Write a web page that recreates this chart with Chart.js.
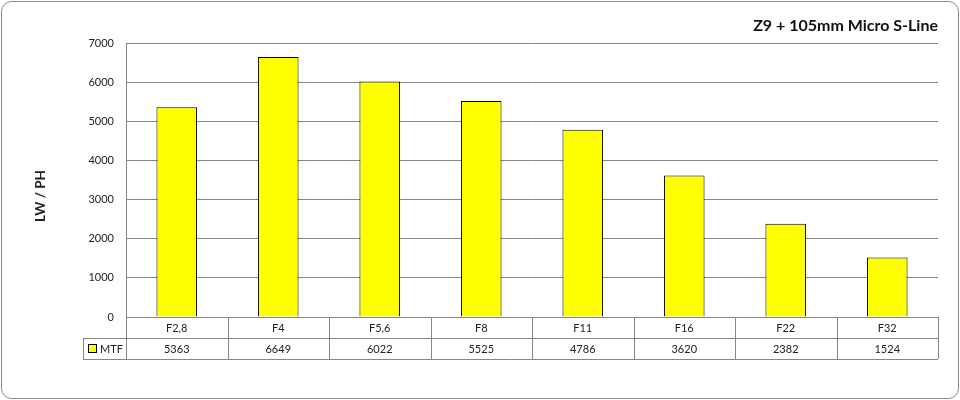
<!DOCTYPE html>
<html>
<head>
<meta charset="utf-8">
<script src="https://cdn.jsdelivr.net/npm/chart.js@4/dist/chart.umd.min.js"></script>
<style>
  html, body { margin: 0; padding: 0; background: #fff; }
  #wrap { width: 960px; height: 400px; position: relative; }
</style>
</head>
<body>
<div id="wrap"><canvas id="mtfChart" width="960" height="400"></canvas></div>
<script>
// Chart data
const apertures = ['F2,8', 'F4', 'F5,6', 'F8', 'F11', 'F16', 'F22', 'F32'];
const mtfValues = [5363, 6649, 6022, 5525, 4786, 3620, 2382, 1524];
const seriesName = 'MTF';
const chartTitle = 'Z9 + 105mm Micro S-Line';
const yAxisTitle = 'LW / PH';

const FONT = 'Lato, "Open Sans", sans-serif';
const LINE = '#868686';

// Outer rounded frame, axis title and Excel-like data table under the bars
const frameAndTable = {
    id: 'frameAndTable',
    beforeDraw(chart) {
        const ctx = chart.ctx;
        ctx.save();
        ctx.fillStyle = '#fff';
        ctx.fillRect(0, 0, chart.width, chart.height);
        ctx.restore();
    },
    afterDraw(chart) {
        const ctx = chart.ctx;
        const x = chart.scales.x;
        const area = chart.chartArea;
        const row1 = Math.round(area.bottom);
        const row2 = row1 + 21;
        const row3 = row2 + 21;
        const legendLeft = 83;
        const half = (x.getPixelForValue(1) - x.getPixelForValue(0)) / 2;

        ctx.save();
        ctx.strokeStyle = LINE;
        ctx.lineWidth = 1;

        // table grid
        ctx.beginPath();
        ctx.moveTo(area.left, row1 + 0.5); ctx.lineTo(area.right, row1 + 0.5);
        ctx.moveTo(legendLeft, row2 + 0.5); ctx.lineTo(area.right, row2 + 0.5);
        ctx.moveTo(legendLeft, row3 + 0.5); ctx.lineTo(area.right, row3 + 0.5);
        ctx.moveTo(legendLeft + 0.5, row2); ctx.lineTo(legendLeft + 0.5, row3);
        ctx.moveTo(Math.round(area.left) + 0.5, row1); ctx.lineTo(Math.round(area.left) + 0.5, row3);
        apertures.forEach((c, i) => {
            const px = Math.round(x.getPixelForValue(i) + half) + 0.5;
            ctx.moveTo(px, row1); ctx.lineTo(px, row3);
        });
        ctx.stroke();

        // legend key
        ctx.fillStyle = '#ffff00';
        ctx.fillRect(88.5, 344.5, 8, 8);
        ctx.strokeStyle = '#000';
        ctx.strokeRect(88.5, 344.5, 8, 8);

        ctx.fillStyle = '#222';
        ctx.font = '11px ' + FONT;
        ctx.textBaseline = 'middle';
        ctx.textAlign = 'left';
        ctx.fillText(seriesName, 100, (row2 + row3) / 2 + 1);

        ctx.textAlign = 'center';
        apertures.forEach((c, i) => {
            const px = x.getPixelForValue(i);
            ctx.fillText(c, px, (row1 + row2) / 2 + 1);
            ctx.fillText(String(mtfValues[i]), px, (row2 + row3) / 2 + 1);
        });

        // y axis title (sits a bit below the plot middle, as in the original)
        ctx.save();
        ctx.translate(41, 196);
        ctx.rotate(-Math.PI / 2);
        ctx.font = 'bold 13.5px ' + FONT;
        ctx.fillStyle = '#222';
        ctx.fillText(yAxisTitle, 0, 0);
        ctx.restore();

        // rounded frame
        ctx.strokeStyle = '#8a8a8a';
        const r = 10, l = 1.5, t = 1.5, w = chart.width - 3, h = chart.height - 3;
        ctx.beginPath();
        ctx.moveTo(l + r, t);
        ctx.lineTo(l + w - r, t);
        ctx.arcTo(l + w, t, l + w, t + r, r);
        ctx.lineTo(l + w, t + h - r);
        ctx.arcTo(l + w, t + h, l + w - r, t + h, r);
        ctx.lineTo(l + r, t + h);
        ctx.arcTo(l, t + h, l, t + h - r, r);
        ctx.lineTo(l, t + r);
        ctx.arcTo(l, t, l + r, t, r);
        ctx.stroke();
        ctx.restore();
    }
};

new Chart(document.getElementById('mtfChart'), {
    type: 'bar',
    data: {
        labels: apertures,
        datasets: [{
            label: seriesName,
            data: mtfValues,
            backgroundColor: '#ffff00',
            borderColor: '#000',
            borderWidth: 1,
            barPercentage: 0.4,
            categoryPercentage: 1
        }]
    },
    options: {
        responsive: false,
        animation: false,
        devicePixelRatio: 1,
        layout: { padding: { left: 0, right: 22, top: 0, bottom: 83 } },
        plugins: {
            legend: { display: false },
            tooltip: { enabled: false },
            title: {
                display: true,
                text: chartTitle,
                align: 'end',
                color: '#111',
                font: { family: FONT, size: 16, weight: 'bold', lineHeight: 1.2 },
                padding: { top: 16, bottom: 8 }
            }
        },
        scales: {
            x: {
                display: false
            },
            y: {
                min: 0,
                max: 7000,
                ticks: {
                    stepSize: 1000,
                    padding: 12,
                    color: '#222',
                    font: { family: FONT, size: 11 },
                    callback: v => String(v)
                },
                grid: { color: LINE, drawTicks: false },
                border: { color: LINE },
                afterFit(scale) { scale.width = 126; }
            }
        }
    },
    plugins: [frameAndTable]
});
</script>
</body>
</html>
